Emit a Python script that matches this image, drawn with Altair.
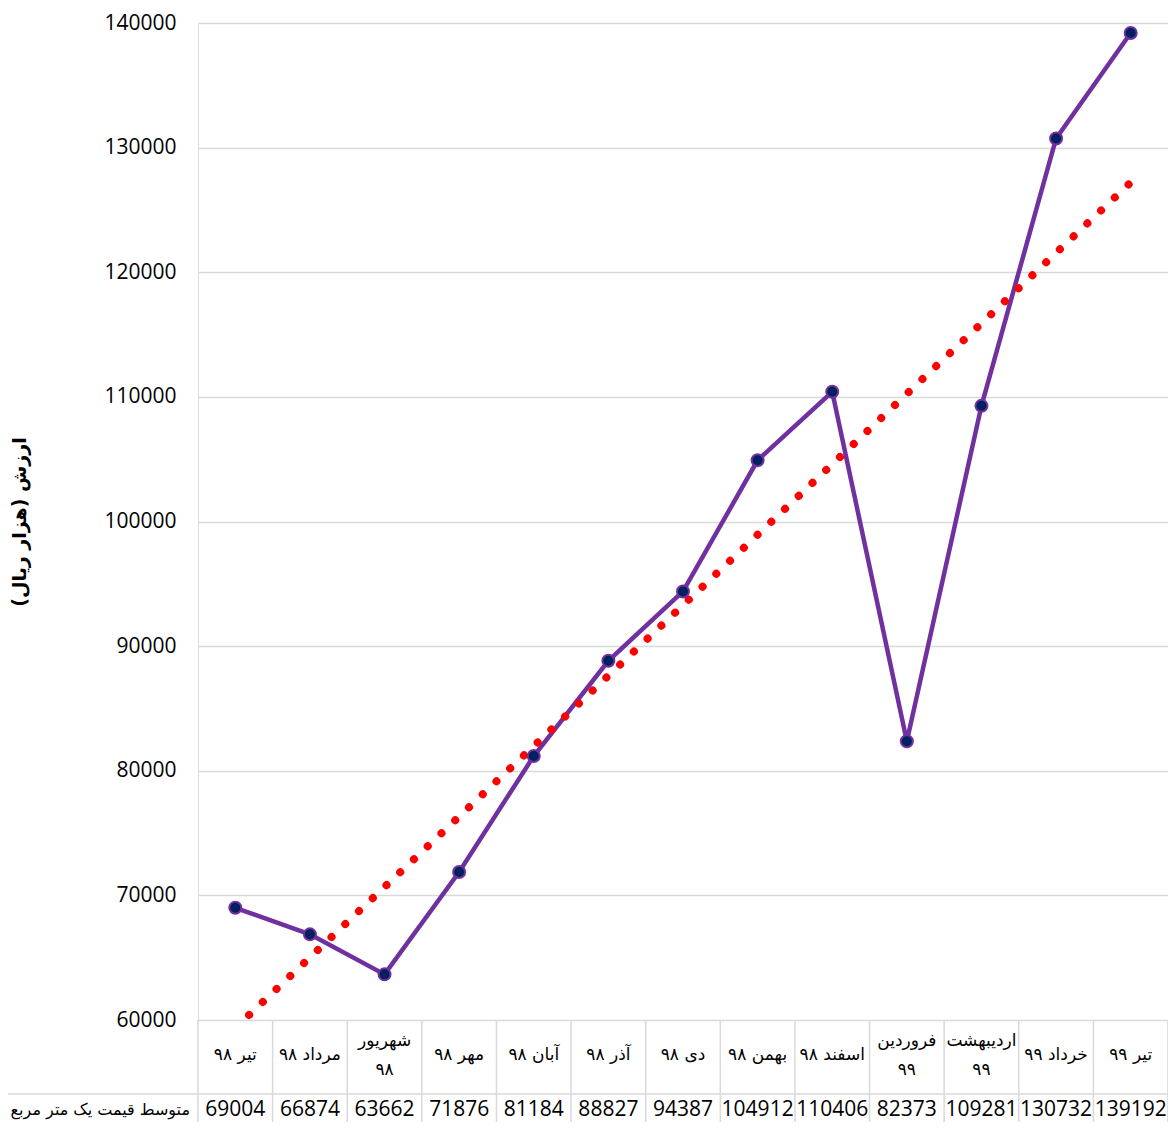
import altair as alt
import pandas as pd

# ---- data ----
months = ["تیر ۹۸", "مرداد ۹۸", "شهریور\n۹۸", "مهر ۹۸", "آبان ۹۸", "آذر ۹۸", "دی ۹۸",
          "بهمن ۹۸", "اسفند ۹۸", "فروردین\n۹۹", "اردیبهشت\n۹۹", "خرداد ۹۹", "تیر ۹۹"]
prices = [69004, 66874, 63662, 71876, 81184, 88827, 94387,
          104912, 110406, 82373, 109281, 130732, 139192]
row_label = "متوسط قیمت یک متر مربع"
y_title = "ارزش (هزار ریال)"
y_ticks = [60000, 70000, 80000, 90000, 100000, 110000, 120000, 130000, 140000]

W, H = 970, 997
GRID = "#d9d9d9"

df = pd.DataFrame({"idx": list(range(1, len(months) + 1)), "month": months, "price": prices})
borders = pd.DataFrame({"b": [i + 0.5 for i in range(len(months) + 1)]})
lbl = pd.DataFrame({"t": [row_label]})

xs = alt.Scale(domain=[0.5, len(months) + 0.5], nice=False, zero=False)
ys = alt.Scale(domain=[y_ticks[0], y_ticks[-1]], nice=False, zero=False)


def X():
    return alt.X("idx:Q", scale=xs, axis=None)


y_enc = alt.Y("price:Q", scale=ys, axis=alt.Axis(
    values=y_ticks, format="d", title=y_title,
    titleFont="DejaVu Sans", titleFontSize=19, titleFontWeight="bold", titleColor="black",
    titlePadding=74,
    labelFont="Open Sans", labelFontSize=21, labelColor="black", labelPadding=22,
    ticks=False, tickSize=0, domain=False,
    grid=True, gridColor=GRID, gridWidth=1.5))

base = alt.Chart(df)

line = base.mark_line(color="#7030a0", strokeWidth=4.5).encode(x=X(), y=y_enc)

trend = base.transform_regression("idx", "price", method="linear", extent=[1, len(months)]).mark_line(
    color="#ff0000", strokeWidth=8, strokeDash=[0.1, 18.8], strokeCap="round", clip=True
).encode(x=X(), y=alt.Y("price:Q", scale=ys))

points = base.mark_point(filled=True, shape="circle", size=144, fill="#002060", color="#002060",
                         stroke="#7030a0", strokeWidth=2, opacity=1).encode(
    x=X(), y=alt.Y("price:Q", scale=ys))

# ---- data table ----
BOTTOM = H + 130
vlines = alt.Chart(borders).mark_rule(color=GRID, strokeWidth=1.5).encode(
    x=alt.X("b:Q", scale=xs, axis=None), y=alt.value(H), y2=alt.value(BOTTOM))

left_border = alt.Chart(lbl).mark_rule(color=GRID, strokeWidth=1.5).encode(
    x=alt.value(-191), y=alt.value(1071), y2=alt.value(BOTTOM))

mid_border = alt.Chart(lbl).mark_rule(color=GRID, strokeWidth=1.5).encode(
    x=alt.value(-191), x2=alt.value(W), y=alt.value(1071))

month_single = base.transform_filter("indexof(datum.month, '\\n') < 0").mark_text(
    font="DejaVu Sans", fontSize=17, baseline="middle", color="black").encode(
    x=X(), y=alt.value(1032), text="month:N")

month_double = base.transform_filter("indexof(datum.month, '\\n') >= 0").mark_text(
    font="DejaVu Sans", fontSize=17, lineBreak="\n", lineHeight=29,
    baseline="middle", color="black").encode(
    x=X(), y=alt.value(1018), text="month:N")

value_text = base.mark_text(font="Open Sans", fontSize=21, baseline="middle", color="black").encode(
    x=X(), y=alt.value(1087), text=alt.Text("price:Q", format="d"))

label_text = alt.Chart(lbl).mark_text(font="DejaVu Sans", fontSize=16, align="right",
                                      baseline="middle", color="black").encode(
    x=alt.value(-8), y=alt.value(1087), text="t:N")

chart = alt.layer(
    vlines, left_border, mid_border, line, trend, points,
    month_single, month_double, value_text, label_text
).properties(
    width=W, height=H,
    autosize=alt.AutoSizeParams(type="none"),
    padding={"left": 190, "top": 15, "right": 0, "bottom": 102}
).configure_view(strokeWidth=0).configure(background="white")

chart.save("out.html", embed_options={"renderer": "svg", "actions": False})
